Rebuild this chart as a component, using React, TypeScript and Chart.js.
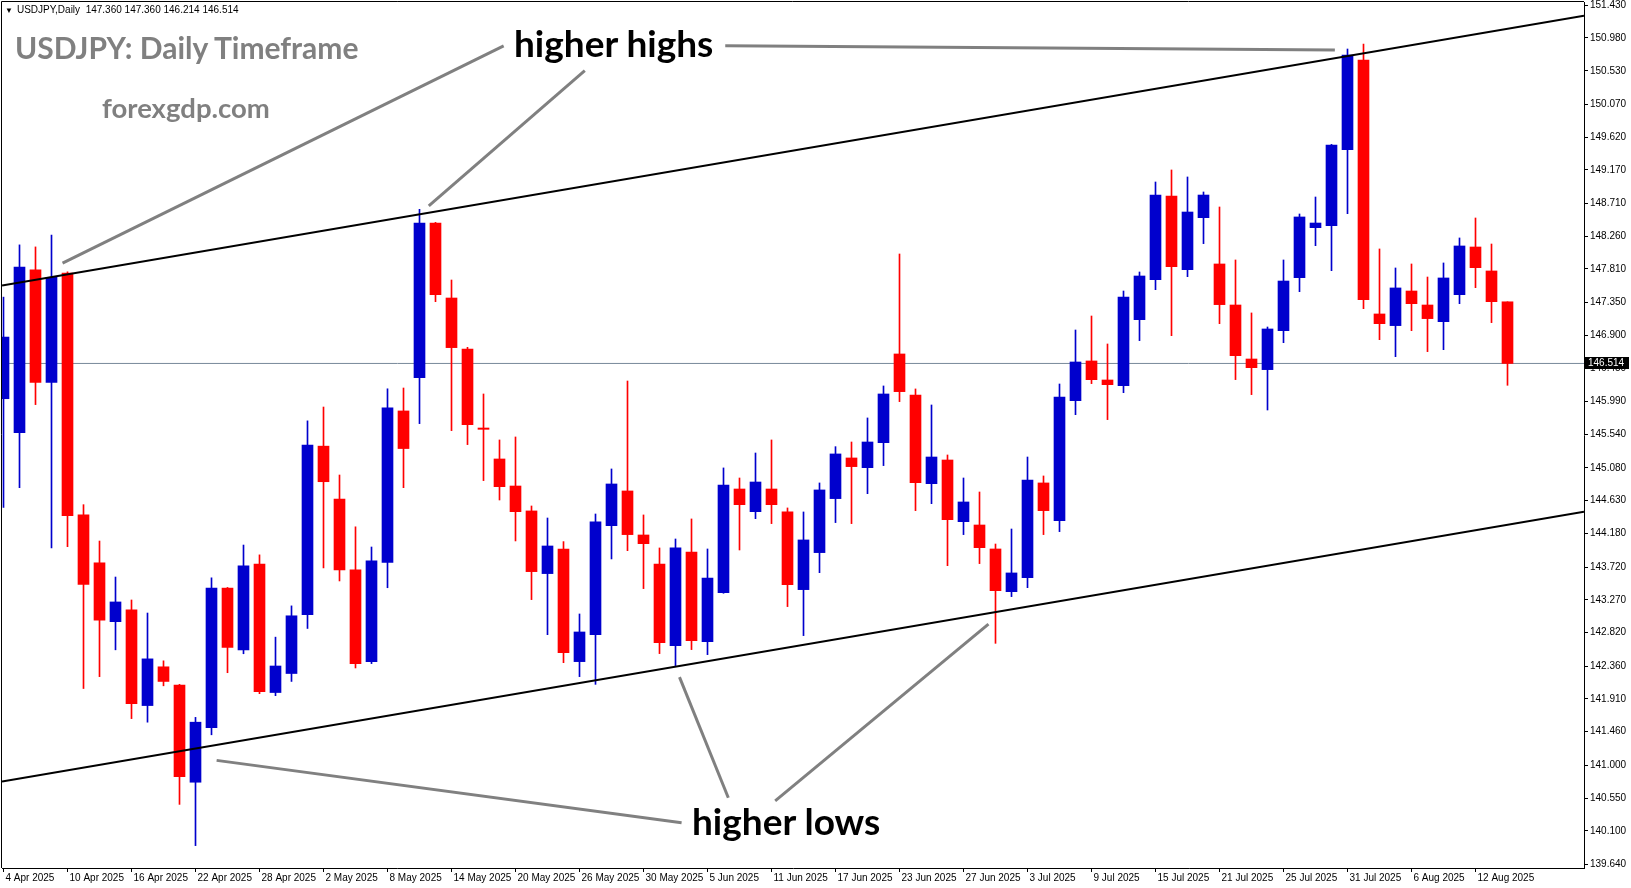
import { useEffect, useRef } from 'react';
import { Chart, registerables } from 'chart.js';

Chart.register(...registerables);

// ---- Data (USDJPY daily candles, 4 Apr 2025 .. 14 Aug 2025) ----
const opens = [
  146.03, 145.563, 147.799, 146.252, 147.755, 144.435, 143.778, 142.97, 143.132, 141.819,
  142.351, 142.101, 140.767, 141.516, 143.431, 142.584, 143.762, 141.998, 142.259, 143.067,
  145.379, 144.652, 143.681, 142.422, 143.784, 145.862, 146.319, 148.441, 147.412, 146.712,
  145.628, 145.203, 144.832, 144.49, 143.63, 143.968, 142.422, 142.793, 144.288, 144.764,
  144.16, 143.762, 142.642, 143.927, 142.696, 143.369, 144.791, 144.48, 144.791, 144.476,
  143.41, 143.918, 144.659, 145.217, 145.084, 145.427, 146.644, 146.081, 144.864, 145.189,
  144.343, 144.297, 143.968, 143.382, 143.575, 144.874, 144.357, 146.003, 146.548, 146.287,
  146.209, 147.115, 147.664, 148.812, 147.801, 148.514, 147.879, 147.316, 146.575, 146.429,
  146.964, 147.691, 148.377, 148.405, 149.448, 150.678, 147.193, 147.033, 147.508, 147.316,
  147.087, 147.458, 148.112, 147.783, 147.36,
];
const highs = [
  147.424, 148.141, 148.113, 148.276, 147.77, 144.576, 144.077, 143.583, 143.268, 143.089,
  142.433, 142.11, 141.657, 143.572, 143.44, 144.022, 143.887, 142.758, 143.187, 145.726,
  145.916, 144.983, 144.272, 143.995, 146.166, 146.177, 148.629, 148.45, 147.659, 146.735,
  146.095, 145.464, 145.505, 144.558, 144.393, 144.069, 143.076, 144.448, 145.066, 146.273,
  144.435, 143.982, 144.105, 144.38, 143.968, 145.08, 144.942, 145.285, 145.464, 144.531,
  144.476, 144.874, 145.372, 145.436, 145.766, 146.205, 148.016, 146.164, 145.944, 145.258,
  144.942, 144.75, 144.036, 144.242, 145.23, 144.97, 146.232, 146.973, 147.165, 146.781,
  147.508, 147.769, 149.004, 149.169, 149.073, 148.867, 148.661, 147.934, 147.207, 147.014,
  147.934, 148.565, 148.798, 149.52, 150.829, 150.898, 148.085, 147.824, 147.879, 147.7,
  147.893, 148.236, 148.51, 148.153, 147.36,
];
const lows = [
  144.538, 144.809, 145.949, 143.984, 144.0, 142.053, 142.216, 142.584, 141.64, 141.591,
  142.09, 140.463, 139.897, 141.418, 142.27, 142.53, 141.982, 141.955, 142.15, 142.877,
  143.708, 143.529, 142.335, 142.395, 143.436, 144.809, 145.688, 147.362, 145.592, 145.4,
  144.906, 144.64, 144.078, 143.273, 142.792, 142.408, 142.216, 142.11, 143.831, 143.945,
  143.424, 142.532, 142.367, 142.587, 142.518, 143.36, 143.954, 144.384, 144.316, 143.177,
  142.779, 143.643, 144.33, 144.316, 144.727, 145.112, 145.99, 144.494, 144.59, 143.739,
  144.165, 143.767, 142.673, 143.314, 143.437, 144.165, 144.206, 145.811, 146.237, 145.743,
  146.113, 146.827, 147.526, 146.895, 147.705, 148.158, 147.06, 146.292, 146.086, 145.875,
  146.799, 147.499, 148.13, 147.787, 148.569, 147.266, 146.84, 146.607, 146.964, 146.676,
  146.703, 147.334, 147.554, 147.074, 146.214,
];
const closes = [
  146.876, 147.837, 146.252, 147.696, 144.424, 143.48, 142.991, 143.241, 141.846, 142.46,
  142.15, 140.843, 141.591, 143.431, 142.617, 143.735, 142.009, 142.362, 143.051, 145.395,
  144.891, 143.681, 142.395, 143.805, 145.905, 145.346, 148.441, 147.458, 146.731, 145.674,
  145.61, 144.823, 144.48, 143.657, 144.009, 142.546, 142.829, 144.339, 144.86, 144.165,
  144.041, 142.683, 143.982, 142.71, 143.57, 144.846, 144.576, 144.887, 144.576, 143.479,
  144.092, 144.778, 145.272, 145.098, 145.436, 146.095, 146.127, 144.878, 145.23, 144.37,
  144.613, 143.986, 143.396, 143.639, 144.915, 144.494, 146.054, 146.534, 146.291, 146.223,
  147.426, 147.714, 148.825, 147.842, 148.592, 148.825, 147.321, 146.621, 146.456, 146.987,
  147.645, 148.524, 148.441, 149.512, 150.747, 147.389, 147.06, 147.55, 147.334, 147.129,
  147.687, 148.126, 147.828, 147.362, 146.514,
];

const xTickIndex = [0, 4, 8, 12, 16, 20, 24, 28, 32, 36, 40, 44, 48, 52, 56, 60, 64, 68, 72, 76, 80, 84, 88, 92];
const xTickLabels = [
  '4 Apr 2025', '10 Apr 2025', '16 Apr 2025', '22 Apr 2025', '28 Apr 2025', '2 May 2025',
  '8 May 2025', '14 May 2025', '20 May 2025', '26 May 2025', '30 May 2025', '5 Jun 2025',
  '11 Jun 2025', '17 Jun 2025', '23 Jun 2025', '27 Jun 2025', '3 Jul 2025', '9 Jul 2025',
  '15 Jul 2025', '21 Jul 2025', '25 Jul 2025', '31 Jul 2025', '6 Aug 2025', '12 Aug 2025',
];
const yTickValues = [
  151.43, 150.98, 150.53, 150.07, 149.62, 149.17, 148.71, 148.26, 147.81, 147.35, 146.9,
  146.45, 145.99, 145.54, 145.08, 144.63, 144.18, 143.72, 143.27, 142.82, 142.36, 141.91,
  141.46, 141.0, 140.55, 140.1, 139.64,
];
const currentPrice = 146.514;

// trend channel (index, price)
const upperChannel = [{ x: -0.09, y: 147.585 }, { x: 98.78, y: 151.287 }];
const lowerChannel = [{ x: -0.09, y: 140.776 }, { x: 98.78, y: 144.478 }];
// annotation pointer lines (index, price)
const pointerLines = [
  [{ x: 3.69, y: 147.89 }, { x: 31.26, y: 150.873 }],
  [{ x: 26.58, y: 148.675 }, { x: 36.33, y: 150.531 }],
  [{ x: 45.11, y: 150.873 }, { x: 83.21, y: 150.817 }],
  [{ x: 13.32, y: 141.067 }, { x: 42.38, y: 140.21 }],
  [{ x: 42.25, y: 142.209 }, { x: 45.3, y: 140.554 }],
  [{ x: 61.56, y: 142.937 }, { x: 48.23, y: 140.51 }],
];

const X_MIN = -0.09375;
const X_MAX = 98.78125;
const Y_MIN = 139.59;
const Y_MAX = 151.474;
const BULL = '#0000CD';
const BEAR = '#FF0000';
const AXIS_FONT = { family: 'Liberation Sans, Arial, sans-serif', size: 10 };

const framePlugin = {
  id: 'frame',
  afterDraw(chart: any) {
    const { ctx, chartArea } = chart;
    ctx.save();
    ctx.strokeStyle = '#000';
    ctx.lineWidth = 1;
    ctx.beginPath();
    ctx.moveTo(chartArea.left - 0.5, chartArea.bottom);
    ctx.lineTo(chartArea.left - 0.5, chartArea.top - 0.5);
    ctx.lineTo(chartArea.right, chartArea.top - 0.5);
    ctx.stroke();
    const y = chart.scales.y.getPixelForValue(currentPrice);
    ctx.fillStyle = '#000';
    ctx.fillRect(chartArea.right + 1, Math.round(y) - 6, 44, 12);
    ctx.fillStyle = '#fff';
    ctx.font = '10px Liberation Sans, Arial, sans-serif';
    ctx.textBaseline = 'middle';
    ctx.textAlign = 'left';
    ctx.fillText(currentPrice.toFixed(3), chartArea.right + 4, Math.round(y));
    ctx.restore();
  },
};

export default function App() {
  const ref = useRef<HTMLCanvasElement>(null);
  useEffect(() => {
    document.body.style.margin = '0';
    const colors = opens.map((o, i) => (closes[i] >= o ? BULL : BEAR));
    const bodies = opens.map((o, i) => ({ x: i, y: [o, closes[i]] }));
    const wicks = lows.map((l, i) => ({ x: i, y: [l, highs[i]] }));
    const lineDs = (data: any[], color: string, width: number, order: number) => ({
      type: 'line' as const,
      data,
      borderColor: color,
      borderWidth: width,
      pointRadius: 0,
      fill: false,
      tension: 0,
      order,
    });
    const chart = new Chart(ref.current as HTMLCanvasElement, {
      type: 'bar',
      data: {
        datasets: [
          lineDs(upperChannel, '#000', 2, 0),
          lineDs(lowerChannel, '#000', 2, 0),
          ...pointerLines.map((p) => lineDs(p, '#808080', 3, 0)),
          {
            type: 'bar',
            data: bodies as any,
            backgroundColor: colors,
            borderWidth: 0,
            grouped: false,
            categoryPercentage: 1,
            barPercentage: 1,
            maxBarThickness: 11,
            minBarLength: 1,
            order: 2,
          } as any,
          {
            type: 'bar',
            data: wicks as any,
            backgroundColor: colors,
            borderWidth: 0,
            grouped: false,
            categoryPercentage: 1,
            barPercentage: 1,
            maxBarThickness: 1,
            order: 3,
          } as any,
          lineDs([{ x: X_MIN, y: currentPrice }, { x: X_MAX, y: currentPrice }], '#778899', 1, 5),
        ] as any,
      },
      options: {
        animation: false,
        responsive: false,
        events: [],
        layout: { padding: { left: 2, top: 2, right: 0, bottom: 0 } },
        plugins: { legend: { display: false }, tooltip: { enabled: false } },
        scales: {
          x: {
            type: 'linear',
            min: X_MIN,
            max: X_MAX,
            offset: false,
            afterBuildTicks: (s: any) => {
              s.ticks = xTickIndex.map((v) => ({ value: v }));
            },
            afterFit: (s: any) => {
              s.height = 20;
              s.paddingLeft = 0;
              s.paddingRight = 0;
            },
            ticks: {
              autoSkip: false,
              maxRotation: 0,
              minRotation: 0,
              align: 'start',
              labelOffset: 2,
              padding: 0,
              color: '#000',
              font: AXIS_FONT,
              callback: (_v: any, i: number) => xTickLabels[i],
            },
            grid: {
              display: true,
              drawOnChartArea: false,
              drawTicks: true,
              tickLength: 4,
              offset: false,
              color: '#000',
            },
            border: { display: true, color: '#000', width: 1 },
          },
          y: {
            type: 'linear',
            position: 'right',
            min: Y_MIN,
            max: Y_MAX,
            afterBuildTicks: (s: any) => {
              s.ticks = yTickValues.map((v) => ({ value: v }));
            },
            afterFit: (s: any) => {
              s.width = 47;
              s.paddingTop = 0;
              s.paddingBottom = 0;
            },
            ticks: {
              autoSkip: false,
              padding: 2,
              color: '#000',
              font: AXIS_FONT,
              callback: (v: any) => Number(v).toFixed(3),
            },
            grid: {
              display: true,
              drawOnChartArea: false,
              drawTicks: true,
              tickLength: 4,
              color: '#000',
            },
            border: { display: true, color: '#000', width: 1 },
          },
        },
      } as any,
      plugins: [framePlugin],
    });
    return () => chart.destroy();
  }, []);

  const lato = 'Lato, "Open Sans", sans-serif';
  const txt = (extra: any) => ({
    position: 'absolute' as const,
    whiteSpace: 'nowrap' as const,
    lineHeight: 1.2,
    fontFamily: lato,
    fontWeight: 700,
    ...extra,
  });

  return (
    <div style={{ position: 'fixed', left: 0, top: 0, width: 1631, height: 888, overflow: 'hidden', background: '#fff' }}>
      <canvas ref={ref} width={1631} height={888} style={{ position: 'absolute', left: 0, top: 0, width: 1631, height: 888 }} />
      <div style={{ position: 'absolute', left: 5, top: 4, fontFamily: 'Liberation Sans, Arial, sans-serif', fontSize: 10, color: '#000', whiteSpace: 'nowrap', lineHeight: '12px' }}>
        <span style={{ fontSize: 8, marginRight: 4 }}>▼</span>USDJPY,Daily&nbsp;&nbsp;147.360 147.360 146.214 146.514
      </div>
      <div style={txt({ left: 15, top: 29.4, fontSize: 30, color: '#808080' })}>USDJPY: Daily Timeframe</div>
      <div style={txt({ left: 102, top: 90.5, fontSize: 27.5, color: '#808080' })}>forexgdp.com</div>
      <div style={txt({ left: 514, top: 20.5, fontSize: 37, color: '#000' })}>higher highs</div>
      <div style={txt({ left: 692, top: 798.5, fontSize: 37, color: '#000' })}>higher lows</div>
    </div>
  );
}
